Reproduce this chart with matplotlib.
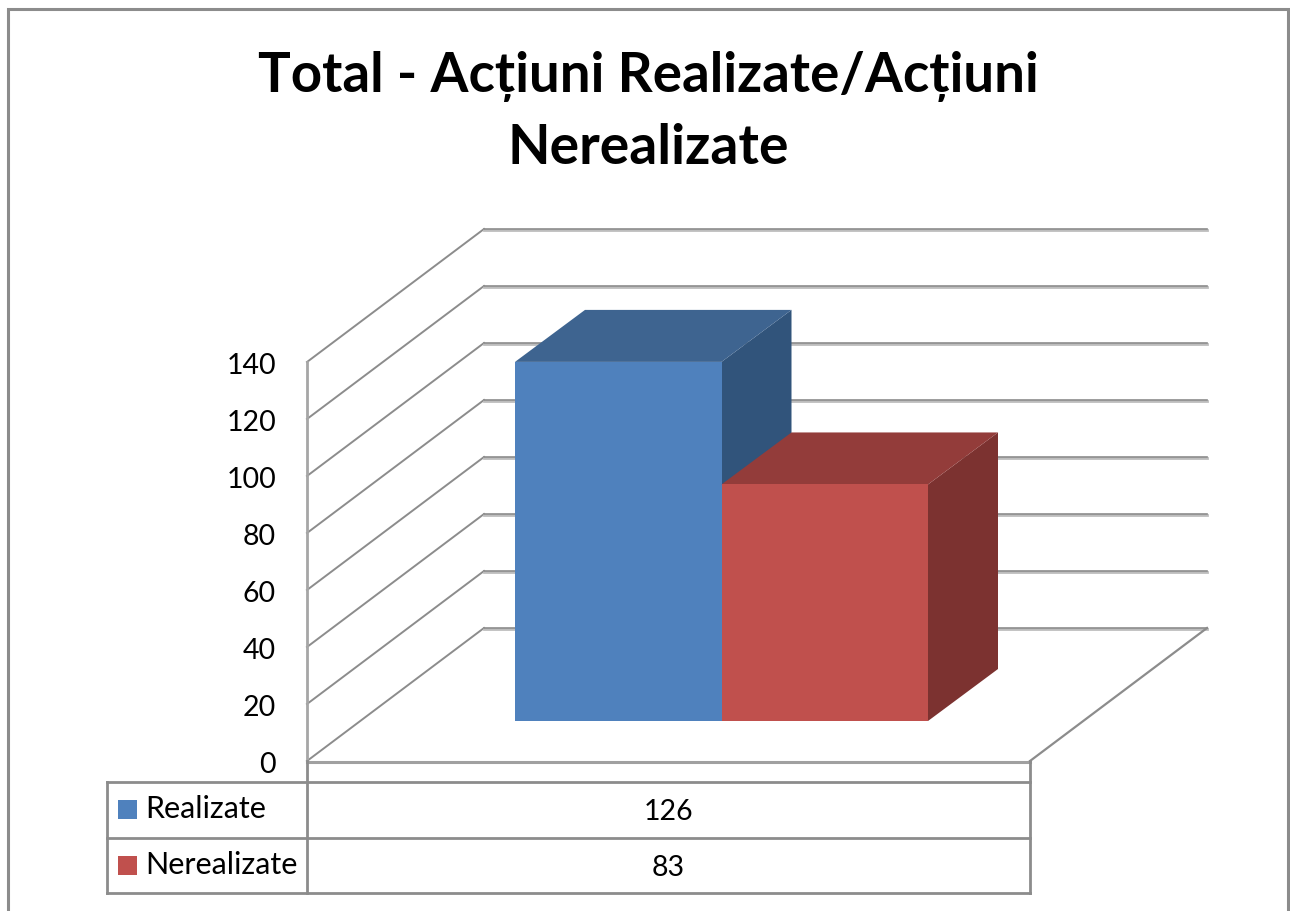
#!/usr/bin/env python3
"""Total actions chart: pseudo-3D column chart with a data table underneath."""
import matplotlib
matplotlib.use('Agg')
import matplotlib.pyplot as plt
from matplotlib.patches import Polygon, Rectangle

plt.rcParams['font.family'] = ['Lato', 'Open Sans', 'DejaVu Sans']

# Data
series_names = ["Realizate", "Nerealizate"]
series_values = [126, 83]
y_ticks = [0, 20, 40, 60, 80, 100, 120, 140]
title_lines = ["Total - Acțiuni Realizate/Acțiuni", "Nerealizate"]

# Colours: front, top, side
colors = [("#4f81bd", "#3e6490", "#31547b"), ("#c0504d", "#933c3a", "#7c3230")]
GRID = "#8c8c8c"
GRID_LIGHT = "#bdbdbd"

# Projection, in pixels
FRONT_X0, FRONT_X1, FRONT_Y0 = 307, 1030, 761
DEPTH_X, DEPTH_Y = 177, -133
UNIT = (761 - 362) / 140.0
BAR_X0, BAR_W = 515, 206.5
BAR_BASE = 721
BAR_DX, BAR_DY = 70, -52


def val_y(v, base=FRONT_Y0):
    return base - v * UNIT


fig = plt.figure(figsize=(12.9, 9.11), dpi=100)
ax = fig.add_axes([0, 0, 1, 1])
ax.set_xlim(0, 1290)
ax.set_ylim(911, 0)
ax.axis('off')

# Outer frame, open at the bottom
ax.plot([8, 8, 1288, 1288], [911, 9, 9, 911], color=GRID, lw=2.2, solid_joinstyle='miter')

# Walls and floor
back_x = FRONT_X0 + DEPTH_X
right_x = FRONT_X1 + DEPTH_X
for v in y_ticks:
    y = val_y(v)
    ax.plot([FRONT_X0, back_x], [y, y + DEPTH_Y], color=GRID, lw=1.4, zorder=1)
    ax.plot([back_x, right_x], [y + DEPTH_Y + 1, y + DEPTH_Y + 1], color=GRID_LIGHT, lw=2, zorder=1)
    ax.plot([back_x, right_x], [y + DEPTH_Y, y + DEPTH_Y], color=GRID, lw=1.2, zorder=1)
    ax.text(276, y + 4, str(v), ha='right', va='center', fontsize=20.5, color='black')
ax.plot([FRONT_X0, FRONT_X0], [val_y(0), val_y(y_ticks[-1])], color="#a6a6a6", lw=2, zorder=1)
ax.plot([FRONT_X0, FRONT_X1], [FRONT_Y0 + 1, FRONT_Y0 + 1], color="#a0a0a0", lw=2.2, zorder=1)
ax.plot([FRONT_X1, right_x], [FRONT_Y0, FRONT_Y0 + DEPTH_Y], color=GRID, lw=1.6, zorder=1)

# Bars
for i, v in enumerate(series_values):
    x0 = BAR_X0 + i * BAR_W
    x1 = x0 + BAR_W
    top = val_y(v, BAR_BASE)
    front, roof, side = colors[i]
    ax.add_patch(Polygon([(x1, top), (x1 + BAR_DX, top + BAR_DY),
                          (x1 + BAR_DX, BAR_BASE + BAR_DY), (x1, BAR_BASE)],
                         fc=side, ec='none', zorder=2 + i))
    ax.add_patch(Polygon([(x0, top), (x0 + BAR_DX, top + BAR_DY),
                          (x1 + BAR_DX, top + BAR_DY), (x1, top)],
                         fc=roof, ec='none', zorder=2 + i))
    ax.add_patch(Rectangle((x0, top), BAR_W, BAR_BASE - top, fc=front, ec='none', zorder=2 + i))

# Data table
TBL_L, TBL_M, TBL_R = 107, 307, 1030
TBL_Y = [782, 838, 893]
for y in TBL_Y:
    ax.plot([TBL_L, TBL_R], [y, y], color=GRID, lw=2, zorder=4)
ax.plot([TBL_L, TBL_L], [TBL_Y[0], TBL_Y[-1]], color=GRID, lw=2, zorder=4)
ax.plot([TBL_M, TBL_M], [761, TBL_Y[-1]], color=GRID, lw=2, zorder=4)
ax.plot([TBL_R, TBL_R], [761, TBL_Y[-1]], color=GRID, lw=2, zorder=4)
for i, (name, v) in enumerate(zip(series_names, series_values)):
    mid = (TBL_Y[i] + TBL_Y[i + 1]) / 2
    ax.add_patch(Rectangle((118, mid - 10), 19, 19, fc=colors[i][0], ec='none', zorder=4))
    ax.text(145, mid - 1, name, ha='left', va='center', fontsize=22, color='black')
    ax.text((TBL_M + TBL_R) / 2, mid + 2, str(v), ha='center', va='center', fontsize=20.5, color='black')

# Title
ax.text(648, 77, title_lines[0], ha='center', va='center', fontsize=39.3, fontweight='bold', color='black')
ax.text(648, 148, title_lines[1], ha='center', va='center', fontsize=39.8, fontweight='bold', color='black')

fig.savefig('out.png', dpi=100, facecolor='white')
plt.close(fig)
